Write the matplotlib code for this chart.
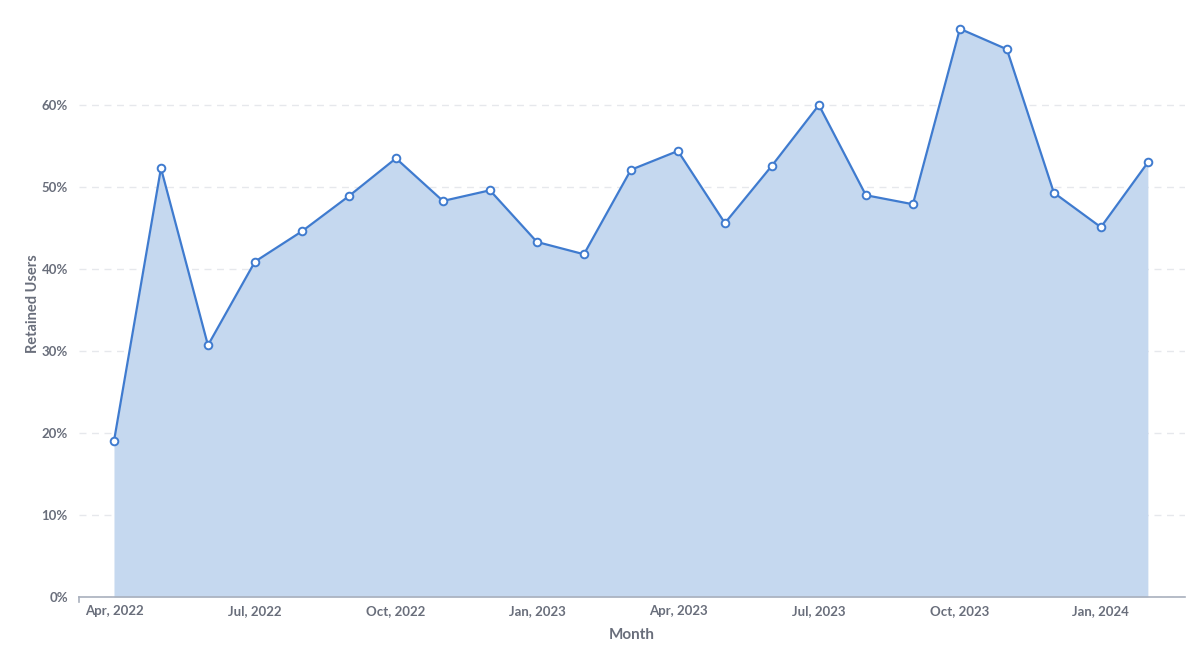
import matplotlib.pyplot as plt
from matplotlib.ticker import FuncFormatter

# --------------------
# Data
# --------------------
months = ["Apr, 2022", "May, 2022", "Jun, 2022", "Jul, 2022", "Aug, 2022", "Sep, 2022",
          "Oct, 2022", "Nov, 2022", "Dec, 2022", "Jan, 2023", "Feb, 2023", "Mar, 2023",
          "Apr, 2023", "May, 2023", "Jun, 2023", "Jul, 2023", "Aug, 2023", "Sep, 2023",
          "Oct, 2023", "Nov, 2023", "Dec, 2023", "Jan, 2024", "Feb, 2024"]
retained = [19.0, 52.3, 30.7, 40.9, 44.6, 48.9, 53.5, 48.3, 49.6, 43.3, 41.8, 52.1,
            54.4, 45.6, 52.6, 60.0, 49.0, 47.9, 69.3, 66.8, 49.3, 45.1, 53.0]
shown_ticks = ["Apr, 2022", "Jul, 2022", "Oct, 2022", "Jan, 2023", "Apr, 2023",
               "Jul, 2023", "Oct, 2023", "Jan, 2024"]

LINE = "#3f7bcf"
FILL = "#c5d8ef"
TEXT = "#696e7b"

plt.rcParams["font.family"] = ["Lato", "DejaVu Sans"]

fig = plt.figure(figsize=(12, 6.53), dpi=100)
ax = fig.add_axes([0.0658, 0.0858, 0.9217, 0.899])
ax.set_axisbelow(True)

x = list(range(len(months)))
ax.fill_between(x, retained, 0, color=FILL, linewidth=0, zorder=1)
ax.plot(x, retained, color=LINE, linewidth=1.6, zorder=3)
ax.plot(x, retained, linestyle="none", marker="o", markersize=5.5,
        markerfacecolor="white", markeredgecolor=LINE, markeredgewidth=1.4, zorder=4)

ax.set_xlim(-0.745, 22.79)
ax.set_ylim(0, 71.6)

ax.set_yticks([0, 10, 20, 30, 40, 50, 60])
ax.yaxis.set_major_formatter(FuncFormatter(lambda v, p: f"{int(v)}%"))
ax.grid(axis="y", color="#e6e8ec", linestyle=(0, (5, 4)), linewidth=1)

tick_pos = [months.index(m) for m in shown_ticks]
ax.set_xticks(tick_pos)
ax.set_xticklabels(shown_ticks)

# small tick at the left end of the x axis
ax.plot([-0.745, -0.745], [0, -0.6], color="#a9b0bd", linewidth=1.2,
        clip_on=False, zorder=2)

for s in ["top", "right", "left"]:
    ax.spines[s].set_visible(False)
ax.spines["bottom"].set_color("#a9b0bd")
ax.spines["bottom"].set_linewidth(1.2)
ax.spines["bottom"].set_zorder(5)

ax.tick_params(axis="y", length=0, pad=8, labelsize=9.5, labelcolor=TEXT)
ax.tick_params(axis="x", length=0, pad=6, labelsize=9.5, labelcolor=TEXT)
for lbl in ax.get_xticklabels() + ax.get_yticklabels():
    lbl.set_fontweight("bold")

ax.set_xlabel("Month", fontsize=11, fontweight="bold", color=TEXT, labelpad=8)
ax.set_ylabel("Retained Users", fontsize=10.5, fontweight="bold", color=TEXT)
ax.yaxis.set_label_coords(-0.035, 0.5)

plt.savefig("out.png", dpi=100)
